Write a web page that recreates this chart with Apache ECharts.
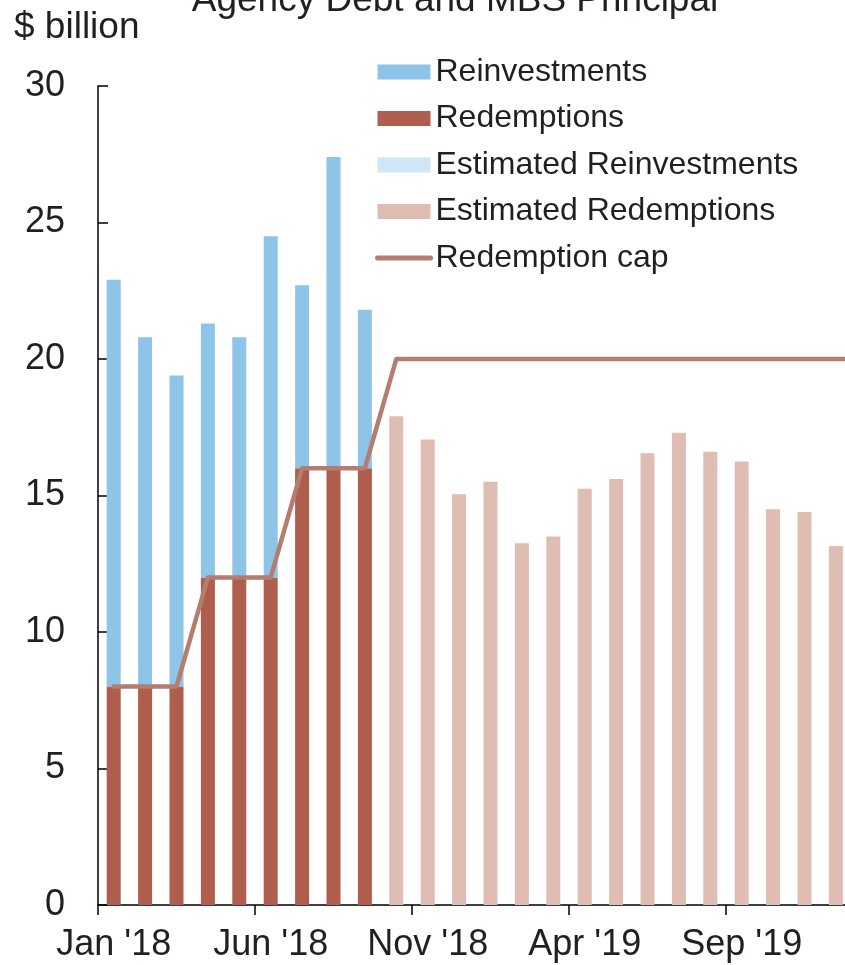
<!DOCTYPE html>
<html>
<head>
<meta charset="utf-8">
<title>Agency Debt and MBS Principal</title>
<script src="https://cdn.jsdelivr.net/npm/echarts@6/dist/echarts.min.js"></script>
<style>
  html, body { margin: 0; padding: 0; background: #ffffff; overflow: hidden; }
  /* the plot runs slightly past the right edge of the window */
  #chart { width: 900px; height: 965px; }
</style>
</head>
<body>
<div id="chart"></div>
<script>
// Monthly categories (the last one sits just past the visible edge)
const months = [
  "Jan '18", "Feb '18", "Mar '18", "Apr '18", "May '18", "Jun '18",
  "Jul '18", "Aug '18", "Sep '18", "Oct '18", "Nov '18", "Dec '18",
  "Jan '19", "Feb '19", "Mar '19", "Apr '19", "May '19", "Jun '19",
  "Jul '19", "Aug '19", "Sep '19", "Oct '19", "Nov '19", "Dec '19",
  "Jan '20"
];

// $ billion
const redemptions = [8, 8, 8, 12, 12, 12, 16, 16, 16];
const reinvestments = [14.9, 12.8, 11.4, 9.3, 8.8, 12.5, 6.7, 11.4, 5.8];
const estRedemptions = [17.9, 17.05, 15.05, 15.5, 13.25, 13.5, 15.25, 15.6, 16.55,
                        17.3, 16.6, 16.25, 14.5, 14.4, 13.15];
const estReinvestments = [];
const redemptionCap = [8, 8, 8, 12, 12, 12, 16, 16, 16, 20, 20, 20, 20, 20, 20,
                       20, 20, 20, 20, 20, 20, 20, 20, 20, 20];

const n = months.length;
function pad(arr, offset) {
  const out = new Array(n).fill(null);
  arr.forEach((v, i) => { out[offset + i] = v; });
  return out;
}

const FONT = 'Liberation Sans, Arial, sans-serif';
const TEXT = '#231f20';
const CAP_COLOR = '#b57d6f';

const chart = echarts.init(document.getElementById('chart'), null, { renderer: 'canvas' });

chart.setOption({
  animation: false,
  backgroundColor: '#ffffff',
  textStyle: { fontFamily: FONT },
  graphic: [
    {
      type: 'text', x: 455, y: 1,
      style: { text: 'Agency Debt and MBS Principal', font: '37px ' + FONT,
               fill: TEXT, textAlign: 'center', textVerticalAlign: 'middle' }
    },
    {
      type: 'text', x: 14, y: 28,
      style: { text: '$ billion', font: '37px ' + FONT,
               fill: TEXT, textAlign: 'left', textVerticalAlign: 'middle' }
    }
  ],
  legend: {
    orient: 'vertical',
    left: 375,
    top: 56,
    padding: 0,
    itemWidth: 53,
    itemHeight: 15,
    itemGap: 14.5,
    textStyle: { fontSize: 32, color: TEXT, fontFamily: FONT, lineHeight: 32 },
    data: [
      { name: 'Reinvestments', icon: 'rect' },
      { name: 'Redemptions', icon: 'rect' },
      { name: 'Estimated Reinvestments', icon: 'rect' },
      { name: 'Estimated Redemptions', icon: 'rect' },
      {
        name: 'Redemption cap',
        itemStyle: { opacity: 0 },
        lineStyle: { color: CAP_COLOR, width: 5, cap: 'round', opacity: 1 }
      }
    ]
  },
  grid: { left: 98, top: 86, width: 785, height: 819, containLabel: false },
  xAxis: {
    type: 'category',
    data: months,
    boundaryGap: true,
    axisLine: { lineStyle: { color: '#000000', width: 1.5 } },
    axisTick: { show: true, interval: 4, length: 10, inside: false,
                lineStyle: { color: '#000000', width: 1.5 } },
    axisLabel: { interval: 4, margin: 22, fontSize: 36, color: TEXT, fontFamily: FONT },
    splitLine: { show: false }
  },
  yAxis: {
    type: 'value',
    min: 0, max: 30, interval: 5,
    axisLine: { show: true, lineStyle: { color: '#000000', width: 1.5 } },
    axisTick: { show: true, inside: true, length: 10,
                lineStyle: { color: '#000000', width: 1.5 } },
    axisLabel: { margin: 33, fontSize: 36, color: TEXT, fontFamily: FONT },
    splitLine: { show: false }
  },
  series: [
    {
      name: 'Redemptions', type: 'bar', stack: 'total', barWidth: 14,
      itemStyle: { color: '#af5e4d' },
      data: pad(redemptions, 0)
    },
    {
      name: 'Reinvestments', type: 'bar', stack: 'total', barWidth: 14,
      itemStyle: { color: '#8fc4e9' },
      data: pad(reinvestments, 0)
    },
    {
      name: 'Estimated Redemptions', type: 'bar', stack: 'total', barWidth: 14,
      itemStyle: { color: '#e0bdb3' },
      data: pad(estRedemptions, 9)
    },
    {
      name: 'Estimated Reinvestments', type: 'bar', stack: 'total', barWidth: 14,
      itemStyle: { color: '#d1e6f7' },
      data: pad(estReinvestments, 24)
    },
    {
      name: 'Redemption cap', type: 'line',
      symbol: 'none', showSymbol: false,
      lineStyle: { color: CAP_COLOR, width: 4.5, cap: 'round', join: 'round' },
      itemStyle: { color: CAP_COLOR },
      data: redemptionCap,
      z: 5
    }
  ]
});
</script>
</body>
</html>
